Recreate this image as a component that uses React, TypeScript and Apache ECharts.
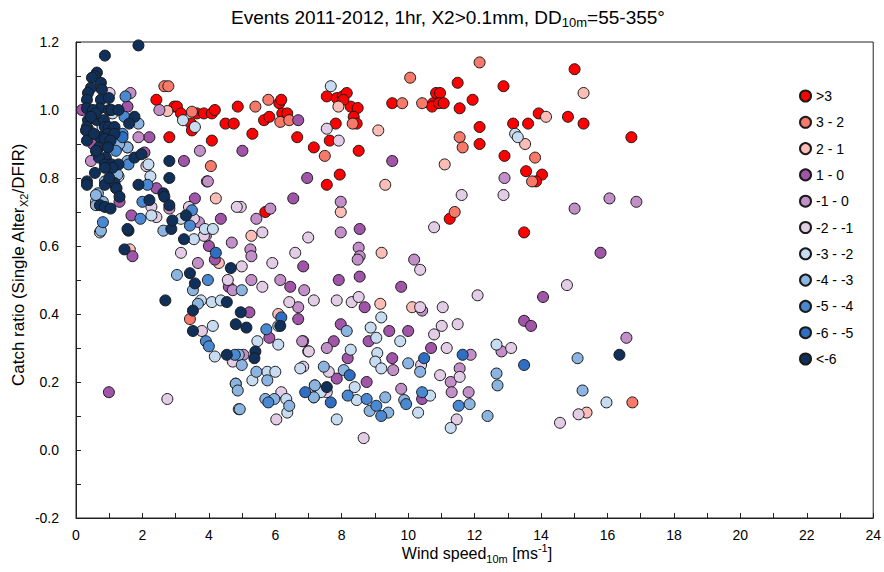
import React, { useEffect, useRef } from "react";
import * as echarts from "echarts";

// Axis ranges and tick spacing
const X_MIN = 0;
const X_MAX = 24;
const X_STEP = 2;
const Y_MIN = -0.2;
const Y_MAX = 1.2;
const Y_STEP = 0.2;

// Class names (temperature classes) shown in the legend, top to bottom
const classNames = [">3", "3 - 2", "2 - 1", "1 - 0", "-1 - 0", "-2 - -1", "-3 - -2", "-4 - -3", "-5 - -4", "-6 - -5", "<-6"];
const classColors = ["#ff0000", "#f7796a", "#fbbdb6", "#a055a8", "#c38fc8", "#e3cde6", "#c7dcf0", "#8cb4e1", "#4a88d2", "#2f6fc2", "#10305a"];

// [wind speed, catch ratio] per class
const gt3 = [[2.42,1.03],[2.81,0.92],[2.96,1.01],[3.04,1.01],[3.16,0.99],[3.46,0.96],[3.49,0.94],[3.64,0.99],[3.85,0.99],[4.09,0.99],[4.18,1.0],[4.09,0.91],[4.5,0.96],[4.75,0.96],[4.87,1.01],[5.31,0.93],[5.66,0.97],[5.82,0.98],[6.12,1.02],[6.18,1.03],[6.21,0.99],[6.36,0.99],[6.66,0.92],[7.16,0.89],[5.7,0.70],[7.55,1.04],[7.85,1.035],[8.03,1.04],[8.15,1.05],[8.27,1.01],[8.48,1.006],[8.36,0.98],[8.45,0.96],[7.82,0.96],[7.64,0.91],[8.51,0.88],[7.94,0.81],[7.55,0.78],[9.52,1.02],[10.75,1.02],[10.84,1.05],[10.96,1.05],[10.72,1.01],[10.93,1.02],[11.07,1.02],[11.49,1.08],[11.94,1.03],[11.55,1.005],[12.15,0.95],[12.15,0.90],[12.87,1.07],[13.16,0.96],[13.61,0.96],[13.93,0.99],[14.03,0.81],[13.55,0.82],[12.9,0.865],[11.25,0.68],[13.49,0.64],[15.01,1.12],[14.81,0.98],[15.28,0.96],[16.72,0.92],[13.85,0.79],[8.05,1.03]];
const c32 = [[2.66,1.07],[2.78,1.07],[3.49,0.995],[4.06,0.835],[5.4,1.01],[5.79,1.03],[6.15,0.965],[6.42,0.97],[10.06,1.095],[9.82,1.02],[10.42,1.02],[8.33,0.96],[7.49,0.865],[11.55,0.92],[11.64,0.89],[12.15,1.14],[11.4,0.70],[13.82,0.86],[13.73,0.79],[16.75,0.14],[3.43,0.385]];
const c21 = [[2.75,0.997],[4.21,0.74],[5.28,0.63],[4.3,0.55],[6.09,0.40],[7.9,1.01],[9.1,0.94],[7.97,0.70],[9.31,0.78],[11.1,0.84],[13.52,0.90],[14.15,0.98],[9.2,0.58],[9.16,0.43],[10.12,0.42],[15.28,1.05],[15.37,0.11],[1.62,0.59]];
const c10 = [[0.18,1.0],[0.51,0.90],[1.55,1.01],[2.21,0.92],[3.25,0.85],[5.01,0.88],[6.69,0.97],[6.96,0.80],[6.54,0.74],[4.36,0.68],[3.58,0.74],[2.42,0.77],[1.67,0.69],[0.99,0.17],[1.7,0.57],[4.0,0.60],[4.18,0.56],[4.6,0.48],[5.22,0.405],[5.82,0.33],[6.84,0.54],[6.45,0.48],[6.69,0.385],[1.31,0.73],[9.52,0.85],[8.54,0.65],[8.54,0.51],[7.91,0.50],[9.79,0.48],[8.69,0.42],[7.97,0.37],[9.43,0.35],[10.0,0.35],[7.76,0.32],[8.81,0.32],[8.18,0.27],[9.52,0.27],[10.69,0.30],[7.85,0.21],[8.75,0.20],[10.42,0.15],[13.49,0.38],[13.7,0.365],[14.06,0.45],[15.79,0.58],[2.06,0.875]];
const c01 = [[1.64,1.05],[2.51,1.0],[1.88,0.92],[1.55,0.89],[0.63,0.87],[3.73,0.88],[3.94,0.79],[5.85,0.71],[5.43,0.68],[2.81,0.71],[3.7,0.67],[3.91,0.63],[4.69,0.61],[5.25,0.59],[5.28,0.57],[3.67,0.55],[5.28,0.50],[4.72,0.47],[6.15,0.50],[6.84,0.32],[5.04,0.28],[7.97,0.73],[7.97,0.64],[12.9,0.80],[8.51,0.595],[8.54,0.57],[8.48,0.56],[10.18,0.56],[6.87,0.47],[6.69,0.42],[10.42,0.41],[6.81,0.32],[7.55,0.30],[9.55,0.235],[11.55,0.24],[11.28,0.20],[11.88,0.28],[12.81,0.29],[11.82,0.17],[11.31,0.17],[9.79,0.18],[15.01,0.71],[16.06,0.74],[16.87,0.73],[16.57,0.33],[0.45,0.85],[3.97,0.79]];
const c12 = [[1.01,1.05],[4.96,0.715],[2.12,0.835],[2.27,0.715],[3.4,0.715],[4.84,0.715],[5.61,0.64],[6.99,0.625],[6.60,0.58],[5.91,0.55],[4.99,0.54],[3.16,0.58],[4.57,0.50],[5.61,0.48],[6.42,0.435],[7.16,0.44],[3.85,0.63],[3.79,0.35],[4.72,0.26],[6.18,0.17],[2.75,0.15],[6.99,0.29],[6.84,0.245],[7.55,0.945],[7.91,0.91],[11.61,0.75],[12.87,0.75],[10.78,0.655],[10.36,0.53],[7.85,0.44],[8.3,0.435],[8.51,0.45],[10.36,0.42],[11.04,0.42],[12.09,0.455],[11.01,0.365],[11.49,0.37],[10.78,0.34],[11.16,0.30],[13.1,0.30],[7.01,0.29],[7.61,0.23],[10.96,0.22],[11.55,0.215],[10.39,0.25],[11.46,0.09],[8.66,0.035],[7.55,0.17],[14.78,0.485],[15.13,0.105],[14.57,0.08],[2.42,0.685],[3.55,0.68],[6.03,0.09]];
const c23 = [[3.22,0.97],[3.58,0.95],[2.18,0.84],[2.27,0.69],[3.88,0.65],[4.12,0.65],[0.72,0.64],[7.67,1.07],[13.22,0.93],[13.3,0.92],[3.55,0.62],[4.09,0.435],[4.36,0.44],[3.76,0.44],[4.12,0.365],[6.09,0.365],[5.46,0.32],[6.09,0.31],[4.18,0.275],[5.76,0.23],[6.0,0.23],[5.31,0.205],[6.75,0.24],[7.16,0.155],[6.33,0.15],[6.36,0.11],[4.9,0.12],[4.81,0.195],[7.19,0.19],[9.19,0.39],[8.87,0.36],[9.04,0.33],[8.27,0.295],[9.07,0.285],[9.76,0.32],[9.01,0.26],[9.19,0.24],[8.39,0.185],[8.45,0.147],[7.85,0.09],[10.3,0.11],[10.66,0.16],[11.28,0.065],[12.66,0.31],[7.37,0.17],[15.97,0.14],[1.28,0.805],[0.6,0.73],[2.24,0.805],[3.16,0.68],[0.8,0.95],[1.2,0.77],[1.1,0.99]];
const c34 = [[1.88,0.96],[1.55,0.89],[1.55,0.85],[1.25,0.81],[0.87,0.79],[0.66,0.755],[0.81,0.73],[2.63,0.645],[0.6,0.72],[3.04,0.515],[3.52,0.47],[3.67,0.43],[4.99,0.47],[4.99,0.25],[5.43,0.23],[5.76,0.205],[4.81,0.195],[4.87,0.175],[5.7,0.15],[5.97,0.15],[6.42,0.13],[4.93,0.12],[4.9,0.28],[8.15,0.35],[7.46,0.245],[8.06,0.235],[7.19,0.19],[7.16,0.155],[9.31,0.155],[8.84,0.115],[9.4,0.11],[9.88,0.147],[10.0,0.255],[10.36,0.23],[12.66,0.225],[12.69,0.19],[11.85,0.135],[12.39,0.10],[15.1,0.27],[15.25,0.175],[0.6,0.75],[0.75,0.645],[1.3,0.9],[0.4,0.94]];
const c45 = [[1.46,0.98],[1.49,1.04],[1.4,0.93],[1.58,0.84],[2.15,0.78],[2.0,0.73],[1.94,0.68],[3.49,0.705],[0.81,0.67],[3.43,0.66],[3.97,0.50],[3.91,0.32],[4.0,0.305],[4.78,0.28],[5.73,0.355],[5.79,0.14],[9.04,0.13],[9.19,0.10],[9.94,0.135],[10.42,0.17],[11.52,0.13],[8.18,0.16],[8.75,0.15],[1.2,0.88]];
const c56 = [[4.21,0.58],[6.18,0.39],[6.9,0.17],[10.48,0.27],[11.64,0.28],[13.49,0.25],[8.24,0.22],[7.67,0.14],[1.4,0.92]];
const lt6 = [[1.88,1.19],[0.87,1.16],[0.63,1.11],[0.57,1.10],[0.48,1.095],[0.75,1.08],[0.45,1.065],[0.78,1.06],[0.36,1.05],[0.33,1.03],[0.75,1.03],[0.99,1.035],[0.72,1.005],[0.33,1.005],[0.99,1.0],[1.07,1.0],[1.28,1.0],[0.51,1.0],[0.36,0.97],[0.63,0.97],[0.84,0.97],[1.76,0.98],[0.33,0.95],[0.3,0.94],[0.87,0.95],[0.99,0.95],[1.16,0.95],[0.96,0.93],[1.16,0.93],[0.33,0.91],[0.72,0.92],[0.87,0.915],[1.04,0.91],[0.69,0.89],[0.96,0.89],[1.76,0.86],[1.97,0.87],[0.9,0.86],[0.69,0.86],[0.87,0.84],[1.07,0.84],[1.28,0.84],[2.81,0.85],[0.33,0.79],[0.33,0.78],[0.57,0.815],[0.87,0.78],[1.16,0.785],[1.22,0.77],[1.31,0.745],[1.88,0.78],[2.21,0.735],[2.63,0.755],[2.66,0.745],[2.81,0.72],[0.72,0.72],[0.87,0.715],[1.04,0.71],[1.1,0.83],[0.87,0.83],[1.58,0.645],[1.46,0.59],[3.25,0.62],[2.87,0.65],[2.9,0.675],[2.81,0.80],[3.43,0.52],[3.58,0.49],[3.31,0.69],[2.69,0.44],[3.52,0.41],[3.52,0.35],[4.66,0.535],[4.54,0.435],[4.96,0.405],[4.81,0.37],[5.13,0.36],[6.15,0.365],[4.54,0.28],[5.4,0.29],[5.37,0.27],[1.55,0.65],[7.55,0.185],[16.36,0.28],[0.6,0.99],[0.45,0.98],[0.54,0.93],[0.6,0.88],[1.6,0.96],[1.0,0.8]];

const classData = [gt3, c32, c21, c10, c01, c12, c23, c34, c45, c56, lt6];

const FONT = "'Liberation Sans', Arial, sans-serif";

export default function App() {
  const ref = useRef<HTMLDivElement>(null);

  useEffect(() => {
    if (!ref.current) return;
    const chart = echarts.init(ref.current, null, { renderer: "svg" });

    const series = classNames.map((name, i) => ({
      name,
      type: "scatter",
      data: classData[i],
      symbol: "circle",
      symbolSize: 11,
      itemStyle: { color: classColors[i], borderColor: "#1a1a1a", borderWidth: 1, opacity: 1 },
      emphasis: { disabled: true },
    }));

    const sub = (size: number) => ({ fontSize: size, lineHeight: size, verticalAlign: "bottom", fontFamily: FONT, fill: "#000" });
    const sup = (size: number) => ({ fontSize: size, lineHeight: size, verticalAlign: "top", fontFamily: FONT, fill: "#000" });

    chart.setOption({
      animation: false,
      backgroundColor: "#fff",
      textStyle: { fontFamily: FONT },
      grid: {
        left: 76,
        right: 6,
        top: 42,
        bottom: 54,
        show: true,
        borderColor: "#222",
        borderWidth: 1,
        backgroundColor: "transparent",
      },
      xAxis: {
        type: "value",
        min: X_MIN,
        max: X_MAX,
        interval: X_STEP,
        axisLine: { show: true, onZero: false, lineStyle: { color: "#222", width: 1 } },
        axisTick: { show: true, inside: true, length: 5, lineStyle: { color: "#222" } },
        minorTick: { show: true, splitNumber: 2, length: 5, lineStyle: { color: "#222" } },
        splitLine: { show: false },
        axisLabel: { color: "#000", fontSize: 14, margin: 10, fontFamily: FONT },
      },
      yAxis: {
        type: "value",
        min: Y_MIN,
        max: Y_MAX,
        interval: Y_STEP,
        axisLine: { show: true, onZero: false, lineStyle: { color: "#222", width: 1 } },
        axisTick: { show: true, inside: true, length: 5, lineStyle: { color: "#222" } },
        minorTick: { show: true, splitNumber: 2, length: 5, lineStyle: { color: "#222" } },
        splitLine: { show: false },
        axisLabel: {
          color: "#000",
          fontSize: 14,
          margin: 17,
          fontFamily: FONT,
          formatter: (v: number) => v.toFixed(1),
        },
      },
      legend: {
        orient: "vertical",
        left: 794,
        top: 84,
        itemWidth: 11,
        itemHeight: 11,
        itemGap: 12.3,
        icon: "circle",
        selectedMode: false,
        data: classNames,
        textStyle: { color: "#000", fontSize: 14, fontFamily: FONT, lineHeight: 14 },
      },
      graphic: [
        {
          type: "text",
          x: 448,
          y: 17,
          style: {
            text: "Events 2011-2012, 1hr, X2>0.1mm, DD{sub|10m}=55-355°",
            fontSize: 19,
            lineHeight: 24,
            fontFamily: FONT,
            fill: "#000",
            align: "center",
            verticalAlign: "middle",
            rich: { sub: sub(13) },
          },
        },
        {
          type: "text",
          x: 477,
          y: 553,
          style: {
            text: "Wind speed{sub|10m} [ms{sup|-1}]",
            fontSize: 16,
            lineHeight: 22,
            fontFamily: FONT,
            fill: "#000",
            align: "center",
            verticalAlign: "middle",
            rich: { sub: sub(11), sup: sup(11) },
          },
        },
        {
          type: "text",
          x: 18,
          y: 265,
          rotation: Math.PI / 2,
          style: {
            text: "Catch ratio (Single Alter{sub|X2}/DFIR)",
            fontSize: 17,
            lineHeight: 22,
            fontFamily: FONT,
            fill: "#000",
            align: "center",
            verticalAlign: "middle",
            rich: { sub: sub(11) },
          },
        },
      ],
      series,
    });

    return () => chart.dispose();
  }, []);

  return <div ref={ref} style={{ width: 884, height: 572, position: "absolute", left: 0, top: 0 }} />;
}
